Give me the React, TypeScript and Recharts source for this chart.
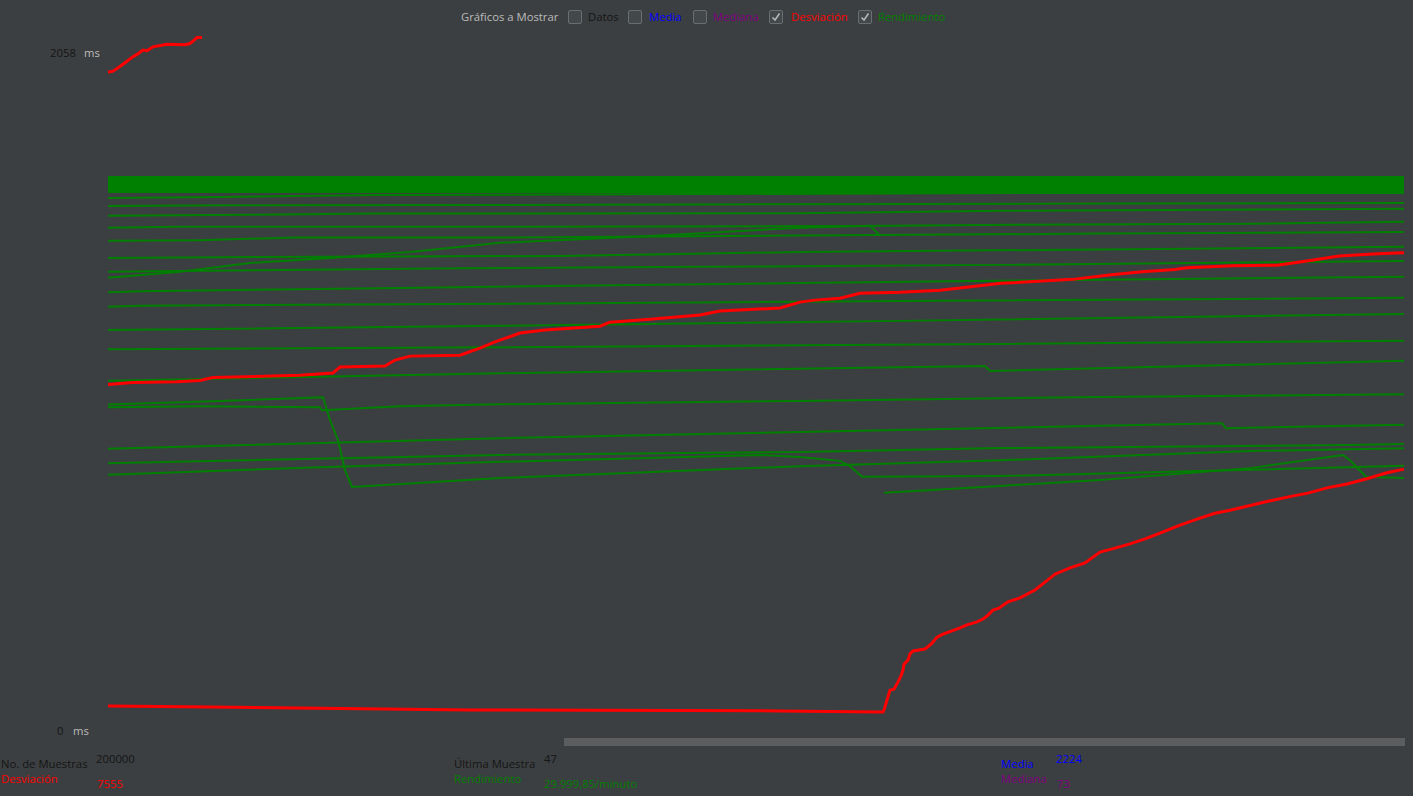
import React from 'react';
import { LineChart, Line, XAxis, YAxis } from 'recharts';

// x: posición de muestra en el gráfico (0..1296), y: ms
const banda = [[0, 1659], [1296, 1659]];

const rend1 = [[0, 1618], [109, 1621], [270, 1627], [925, 1633], [1296, 1633]];
const rend2 = [[0, 1594], [122, 1596], [392, 1597], [692, 1599], [1042, 1601], [1296, 1603]];
const rend3 = [[0, 1564], [142, 1567], [264, 1571], [692, 1572], [892, 1579], [1296, 1585]];
const rend4 = [[0, 1528], [67, 1531], [392, 1531], [752, 1533], [907, 1537], [1142, 1540], [1296, 1546]];
const rend5 = [[0, 1488], [92, 1490], [187, 1498], [392, 1498], [692, 1504], [842, 1507], [992, 1510], [1296, 1515]];
const rend6 = [[0, 1436], [222, 1440], [452, 1442], [692, 1454], [992, 1462], [1296, 1470]];
const rend7 = [[0, 1394], [147, 1399], [352, 1405], [592, 1409], [892, 1415], [1296, 1427]];
const rendSube = [[0, 1376], [72, 1394], [142, 1421], [222, 1436], [302, 1454], [392, 1482], [542, 1503], [692, 1528], [762, 1534], [772, 1504]];
const rend8 = [[0, 1332], [32, 1335], [292, 1345], [692, 1360], [992, 1370], [1296, 1379]];
const rend9 = [[0, 1288], [32, 1291], [392, 1297], [792, 1305], [1296, 1315]];
const rend10 = [[0, 1217], [392, 1230], [792, 1245], [1296, 1266]];
const rend11 = [[0, 1159], [392, 1165], [892, 1175], [1296, 1185]];
const rend12 = [[0, 1063], [392, 1086], [877, 1108], [882, 1093], [1296, 1124]];
const rend13 = [[0, 991], [112, 1002], [215, 1013], [222, 944], [230, 883], [237, 792], [244, 741], [392, 768], [692, 804], [892, 822], [1142, 850], [1296, 858]];
const rend14 = [[0, 983], [92, 986], [212, 983], [214, 974], [292, 986], [392, 992], [692, 1002], [992, 1014], [1296, 1022]];
const rend15 = [[0, 857], [392, 889], [692, 908], [1114, 934], [1118, 919], [1296, 930]];
const rend16 = [[0, 813], [392, 838], [692, 847], [892, 859], [1242, 868], [1296, 871]];
const rend17 = [[0, 778], [212, 801], [392, 817], [652, 838], [692, 832], [732, 820], [742, 804], [754, 772], [892, 774], [1092, 789], [1296, 805]];
const rend18 = [[776, 723], [892, 744], [992, 762], [1142, 798], [1235, 838], [1242, 822], [1258, 772], [1296, 768]];

const desv1 = [[0, 76], [102, 73], [362, 64], [672, 61], [772, 58], [775, 58], [776, 64], [779, 94], [782, 124], [786, 127], [790, 149], [793, 167], [795, 185], [796, 203], [800, 215], [802, 234], [805, 243], [817, 249], [823, 264], [825, 270], [829, 285], [835, 294], [844, 304], [852, 313], [859, 322], [869, 331], [875, 340], [879, 349], [885, 367], [891, 373], [895, 382], [900, 392], [912, 404], [927, 428], [937, 452], [947, 476], [962, 495], [977, 510], [992, 543], [1007, 555], [1022, 568], [1037, 583], [1052, 601], [1072, 625], [1092, 646], [1107, 661], [1122, 670], [1161, 698], [1184, 713], [1200, 722], [1219, 738], [1239, 750], [1258, 765], [1278, 783], [1296, 795]];
const desv2 = [[0, 1052], [25, 1058], [69, 1060], [92, 1064], [105, 1073], [155, 1077], [192, 1080], [225, 1087], [232, 1105], [277, 1108], [287, 1126], [302, 1138], [352, 1141], [372, 1162], [387, 1181], [412, 1208], [437, 1217], [492, 1229], [502, 1241], [542, 1250], [592, 1263], [612, 1275], [672, 1284], [692, 1302], [707, 1308], [732, 1314], [752, 1329], [792, 1332], [832, 1338], [852, 1345], [893, 1359], [965, 1371], [1001, 1384], [1034, 1394], [1067, 1401], [1079, 1406], [1124, 1412], [1169, 1414], [1204, 1429], [1231, 1442], [1270, 1449], [1296, 1452]];
const desv3 = [[0, 2000], [5, 2003], [9, 2011], [15, 2024], [19, 2033], [25, 2047], [29, 2054], [35, 2067], [39, 2065], [45, 2077], [59, 2085], [77, 2083], [82, 2087], [85, 2094], [89, 2105], [94, 2105]];

const rendimiento = [rend1, rend2, rend3, rend4, rend5, rend6, rend7, rendSube, rend8, rend9, rend10, rend11, rend12, rend13, rend14, rend15, rend16, rend17, rend18];
const desviacion = [desv1, desv2, desv3];

const pts = (a: number[][]) => a.map(([x, y]) => ({ x, y }));

const BG = '#3c3f41';
const FONT = '"Open Sans", "Noto Sans", sans-serif';

function Txt({ x, y, color, size = 11.3, children }: any) {
  return (
    <div style={{ position: 'absolute', left: x, top: y - 9, height: 18, lineHeight: '18px', fontSize: size, color, fontFamily: FONT, whiteSpace: 'nowrap' }}>
      {children}
    </div>
  );
}

function Check({ x, checked }: { x: number; checked?: boolean }) {
  return (
    <div style={{ position: 'absolute', left: x, top: 10, width: 12, height: 12, border: '1px solid #6b6e70', background: '#43484a', borderRadius: 2 }}>
      {checked && (
        <svg width={12} height={12} style={{ position: 'absolute', left: 0, top: 0 }}>
          <path d="M2.5 6.5 L5 9 L9.5 2.5" fill="none" stroke="#b8b8b8" strokeWidth={1.5} />
        </svg>
      )}
    </div>
  );
}

export default function App() {
  return (
    <div style={{ position: 'fixed', left: 0, top: 0, width: 1413, height: 796, background: BG, overflow: 'hidden' }}>
      <LineChart width={1413} height={796} margin={{ top: 30, right: 9, bottom: 65, left: 108 }}>
        <XAxis type="number" dataKey="x" domain={[0, 1296]} hide allowDuplicatedCategory={false} />
        <YAxis type="number" dataKey="y" domain={[0, 2128]} hide />
        <Line data={pts(banda)} dataKey="y" stroke="#008000" strokeWidth={17} strokeLinecap="butt" dot={false} isAnimationActive={false} />
        {rendimiento.map((r, i) => (
          <Line key={'r' + i} data={pts(r)} dataKey="y" stroke="#008000" strokeWidth={2} dot={false} isAnimationActive={false} />
        ))}
        {desviacion.map((d, i) => (
          <Line key={'d' + i} data={pts(d)} dataKey="y" stroke="#ff0000" strokeWidth={3} dot={false} isAnimationActive={false} />
        ))}
      </LineChart>

      <Txt x={461} y={17} color="#bbbbbb">Gráficos a Mostrar</Txt>
      <Check x={568} />
      <Txt x={588} y={17} color="#151515">Datos</Txt>
      <Check x={628} />
      <Txt x={649} y={17} color="#0000ff">Media</Txt>
      <Check x={693} />
      <Txt x={713} y={17} color="#800080">Mediana</Txt>
      <Check x={769} checked />
      <Txt x={791} y={17} color="#ff0000">Desviación</Txt>
      <Check x={858} checked />
      <Txt x={878} y={17} color="#008000">Rendimiento</Txt>

      <Txt x={50} y={53} color="#151515">2058</Txt>
      <Txt x={84} y={53} color="#bbbbbb">ms</Txt>
      <Txt x={57} y={731} color="#151515">0</Txt>
      <Txt x={73} y={731} color="#bbbbbb">ms</Txt>

      <div style={{ position: 'absolute', left: 564, top: 738, width: 841, height: 8, background: '#5b5d5f' }} />

      <Txt x={1} y={764} color="#151515">No. de Muestras</Txt>
      <Txt x={96} y={759} color="#151515">200000</Txt>
      <Txt x={1} y={779} color="#ff0000">Desviación</Txt>
      <Txt x={97} y={784} color="#ff0000">7555</Txt>

      <Txt x={454} y={764} color="#151515">Última Muestra</Txt>
      <Txt x={544} y={759} color="#151515">47</Txt>
      <Txt x={454} y={779} color="#008000">Rendimiento</Txt>
      <Txt x={544} y={784} color="#008000">29.999,85/minuto</Txt>

      <Txt x={1001} y={764} color="#0000ff">Media</Txt>
      <Txt x={1056} y={759} color="#0000ff">2224</Txt>
      <Txt x={1001} y={779} color="#800080">Mediana</Txt>
      <Txt x={1057} y={784} color="#800080">73</Txt>
    </div>
  );
}
